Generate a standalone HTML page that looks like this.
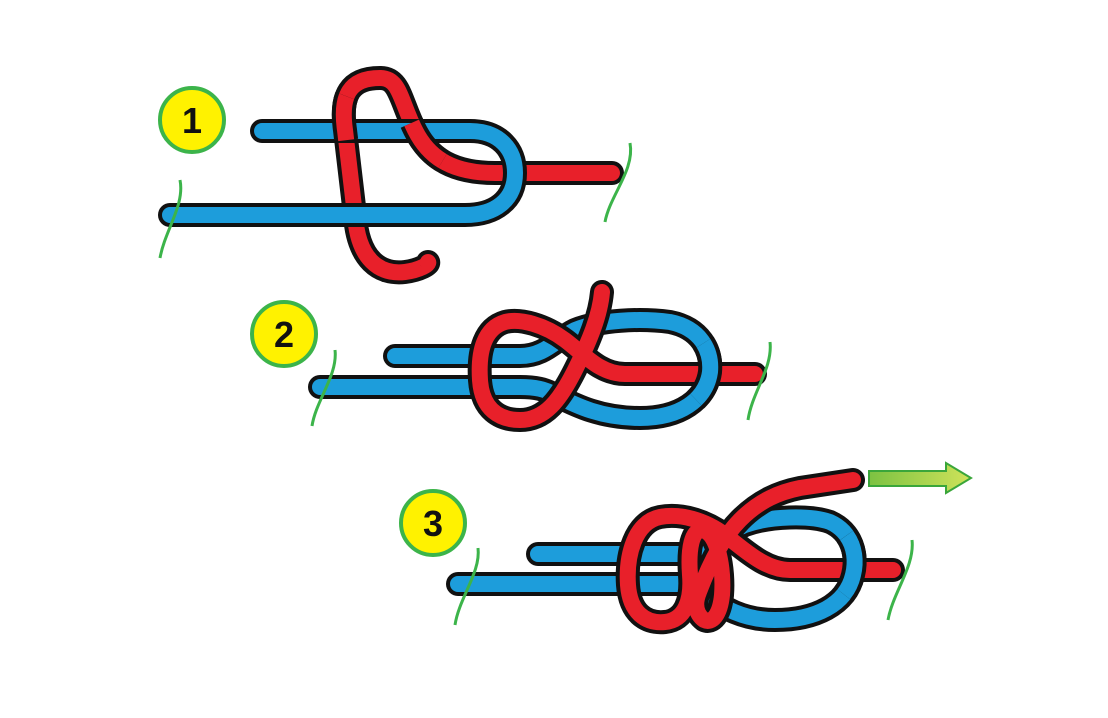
<!DOCTYPE html>
<html><head><meta charset="utf-8"><style>
html,body{margin:0;padding:0;background:#fff;}
svg{display:block;}
text{font-family:"Liberation Sans",sans-serif;font-weight:bold;}
.k{stroke:#111;stroke-width:24;fill:none;stroke-linecap:round;stroke-linejoin:round;}
.r{stroke:#e8202a;stroke-width:16;fill:none;stroke-linecap:round;stroke-linejoin:round;}
.b{stroke:#1d9ddb;stroke-width:16;fill:none;stroke-linecap:round;stroke-linejoin:round;}
.ko{stroke:#111;stroke-width:24;fill:none;stroke-linecap:butt;}
.ro{stroke:#e8202a;stroke-width:16;fill:none;stroke-linecap:butt;}
.bo{stroke:#1d9ddb;stroke-width:16;fill:none;stroke-linecap:butt;}
.t{stroke:#3cb44a;stroke-width:3;fill:none;}
</style></head><body>
<svg width="1108" height="718" viewBox="0 0 1108 718" xmlns="http://www.w3.org/2000/svg">
<defs>
<linearGradient id="ag" x1="0" x2="1" y1="0" y2="0"><stop offset="0" stop-color="#7cc242"/><stop offset="1" stop-color="#cfe35a"/></linearGradient>
<path id="r1" pathLength="100" d="M612,173 L495,173 C455,173 430,160 415,130 C400,100 400,78 380,78 C350,78 340,95 345,130 L355,215 C358,260 380,275 405,272 C420,270 430,264 428,262"/>
<path id="b1" pathLength="100" d="M262,131 L470,131 C500,131 515,150 515,173 C515,200 495,215 465,215 L170,215"/>
<path id="b2" pathLength="100" d="M395,356 L520,356 C545,356 555,340 575,330 C600,320 640,318 670,322 C700,328 712,350 710,372 C706,400 680,418 640,418 C600,418 575,405 555,395 C545,389 535,387 520,387 L320,387"/>
<path id="r2" pathLength="100" d="M755,374 L625,374 C600,374 585,355 565,340 C545,325 520,318 505,322 C485,328 478,350 480,380 C482,410 500,420 520,420 C545,420 560,400 575,370 C590,340 600,315 602,292"/>
<path id="b3" pathLength="100" d="M538,554 L690,554 C710,554 720,535 745,525 C770,516 810,515 830,522 C852,532 858,555 853,575 C846,605 815,620 775,620 C740,620 720,605 705,595 C698,588 690,584 680,584 L458,584"/>
<path id="r3" pathLength="100" d="M893,570 L790,570 C765,570 745,550 725,535 C705,520 680,513 660,517 C635,522 626,555 628,585 C630,612 645,624 665,622 C685,620 692,600 690,575 C688,548 692,530 702,530 C718,532 724,570 722,595 C720,615 712,624 704,620 C696,614 694,604 699,592 C708,568 722,538 740,520 C760,500 780,492 800,488 L853,480"/>
</defs>
<rect width="1108" height="718" fill="#fff"/>

<!-- PANEL 1 -->
<use href="#r1" class="k"/><use href="#r1" class="r"/>
<use href="#b1" class="k"/><use href="#b1" class="b"/>
<use href="#r1" class="ko" stroke-dasharray="0 31 9 100"/><use href="#r1" class="ro" stroke-dasharray="0 31 9 100"/>
<use href="#r1" class="ko" stroke-dasharray="0 58 8 100"/><use href="#r1" class="ro" stroke-dasharray="0 58 8 100"/>
<path class="t" d="M180,180 C185,205 165,230 160,258"/>
<path class="t" d="M630,143 C635,170 610,195 605,222"/>

<!-- PANEL 2 -->
<use href="#b2" class="k"/><use href="#b2" class="b"/>
<use href="#r2" class="k"/><use href="#r2" class="r"/>
<use href="#b2" class="ko" stroke-dasharray="0 42 8 100"/><use href="#b2" class="bo" stroke-dasharray="0 42 8 100"/>
<path class="t" d="M335,350 C338,375 316,400 312,426"/>
<path class="t" d="M770,342 C773,368 752,392 748,420"/>

<!-- PANEL 3 -->
<use href="#b3" class="k"/><use href="#b3" class="b"/>
<use href="#r3" class="k"/><use href="#r3" class="r"/>
<use href="#b3" class="ko" stroke-dasharray="0 41 8 100"/><use href="#b3" class="bo" stroke-dasharray="0 41 8 100"/>
<path class="t" d="M478,548 C481,572 459,598 455,625"/>
<path class="t" d="M912,540 C915,566 893,592 888,620"/>

<polygon points="869,471 946,471 946,463 971,478 946,493 946,486 869,486" fill="url(#ag)" stroke="#3aa63a" stroke-width="2"/>

<circle cx="192" cy="120" r="32" fill="#fff200" stroke="#3cb44a" stroke-width="4"/>
<text x="192" y="133" font-size="36" text-anchor="middle" fill="#111">1</text>
<circle cx="284" cy="334" r="32" fill="#fff200" stroke="#3cb44a" stroke-width="4"/>
<text x="284" y="347" font-size="36" text-anchor="middle" fill="#111">2</text>
<circle cx="433" cy="523" r="32" fill="#fff200" stroke="#3cb44a" stroke-width="4"/>
<text x="433" y="536" font-size="36" text-anchor="middle" fill="#111">3</text>
</svg>
</body></html>
